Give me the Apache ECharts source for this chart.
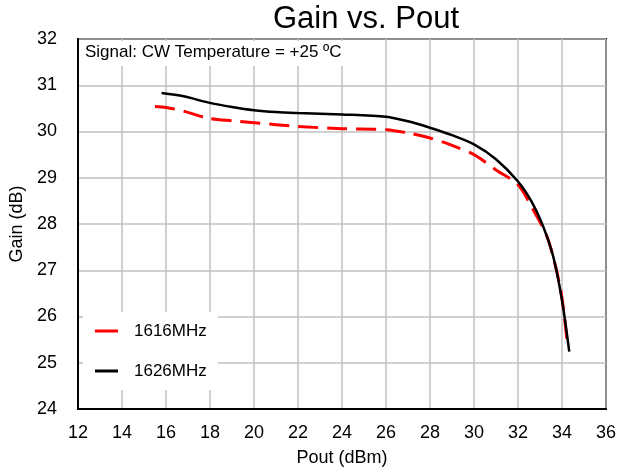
<!DOCTYPE html>
<html>
<head>
<meta charset="utf-8">
<script src="https://cdn.jsdelivr.net/npm/echarts@6/dist/echarts.min.js"></script>
<style>
  html, body { margin: 0; padding: 0; background: #fff; }
  #chart { width: 619px; height: 472px; }
</style>
</head>
<body>
<div id="chart"></div>
<script>
// values
const pout1616 = [15.5, 16.0, 16.8, 17.9, 19.0, 20.0, 22.0, 24.0, 26.0, 27.0, 28.0, 29.0, 30.0, 31.0, 32.0, 32.7, 33.3, 33.7, 34.0, 34.25]
const gain1616 = [30.54, 30.52, 30.44, 30.29, 30.23, 30.19, 30.11, 30.06, 30.04, 29.97, 29.86, 29.70, 29.50, 29.17, 28.85, 28.30, 27.75, 27.10, 26.40, 25.38]

const pout1626 = [15.8, 16.8, 17.9, 19.0, 20.0, 21.0, 22.0, 24.0, 26.0, 27.0, 28.0, 29.0, 30.0, 31.0, 32.0, 32.6, 33.1, 33.6, 34.0, 34.33]
const gain1626 = [30.83, 30.76, 30.63, 30.53, 30.46, 30.42, 30.40, 30.37, 30.32, 30.22, 30.08, 29.92, 29.72, 29.40, 28.92, 28.50, 28.00, 27.30, 26.35, 25.24]

const seriesNames = ['1616MHz', '1626MHz']
const xTicks = { min: 12, max: 36, step: 2 }
const yTicks = { min: 24, max: 32, step: 1 }

const pairs = (xs, ys) => xs.map((x, i) => [x, ys[i]])

const font = '"Liberation Sans", Arial, sans-serif'
const chart = echarts.init(document.getElementById('chart'))

const option = {
  animation: false,
  title: [
    {
      text: 'Gain vs. Pout',
      left: 273,
      top: 4,
      padding: 0,
      textStyle: { fontFamily: font, fontSize: 31, fontWeight: 'normal', color: '#000' }
    },
    {
      // the note in the top left corner sits on a white box over the grid
      text: 'Signal: CW Temperature = +25 ºC',
      left: 79,
      top: 41,
      padding: [3, 6, 5, 6],
      backgroundColor: '#fff',
      textStyle: { fontFamily: font, fontSize: 17, fontWeight: 'normal', color: '#000' }
    }
  ],
  legend: {
    orient: 'vertical',
    left: 83,
    top: 312,
    padding: [9, 11, 9, 12],
    backgroundColor: '#fff',
    itemGap: 20,
    itemWidth: 23,
    itemHeight: 3,
    icon: 'rect',
    lineStyle: { type: 'solid', width: 3 },
    textStyle: { fontFamily: font, fontSize: 17, color: '#000', lineHeight: 20, padding: [0, 0, 0, 11] },
    data: seriesNames
  },
  grid: {
    left: 77,
    right: 12,
    top: 39,
    bottom: 61,
    show: true,
    borderColor: '#000',
    borderWidth: 2
  },
  xAxis: {
    type: 'value',
    min: xTicks.min,
    max: xTicks.max,
    interval: xTicks.step,
    name: 'Pout (dBm)',
    nameLocation: 'middle',
    nameGap: 40,
    nameTextStyle: { fontFamily: font, fontSize: 18, color: '#000' },
    axisLine: { lineStyle: { color: '#000', width: 2 } },
    axisTick: { show: false },
    axisLabel: { fontFamily: font, fontSize: 18, color: '#000', margin: 15 },
    splitLine: { lineStyle: { color: '#c0c0c0', width: 1.5 } }
  },
  yAxis: {
    type: 'value',
    min: yTicks.min,
    max: yTicks.max,
    interval: yTicks.step,
    name: 'Gain (dB)',
    nameLocation: 'middle',
    nameGap: 52,
    nameTextStyle: { fontFamily: font, fontSize: 18, color: '#000' },
    axisLine: { lineStyle: { color: '#000', width: 2 } },
    axisTick: { show: false },
    axisLabel: { fontFamily: font, fontSize: 18, color: '#000', margin: 21 },
    splitLine: { lineStyle: { color: '#c0c0c0', width: 1.5 } }
  },
  series: [
    {
      name: seriesNames[0],
      type: 'line',
      color: '#ff0000',
      smooth: 0.3,
      symbol: 'none',
      lineStyle: { color: '#ff0000', width: 3, type: [20, 9] },
      data: pairs(pout1616, gain1616)
    },
    {
      name: seriesNames[1],
      type: 'line',
      color: '#000',
      smooth: 0.3,
      symbol: 'none',
      lineStyle: { color: '#000', width: 2.5 },
      data: pairs(pout1626, gain1626)
    }
  ]
}

chart.setOption(option)
</script>
</body>
</html>
